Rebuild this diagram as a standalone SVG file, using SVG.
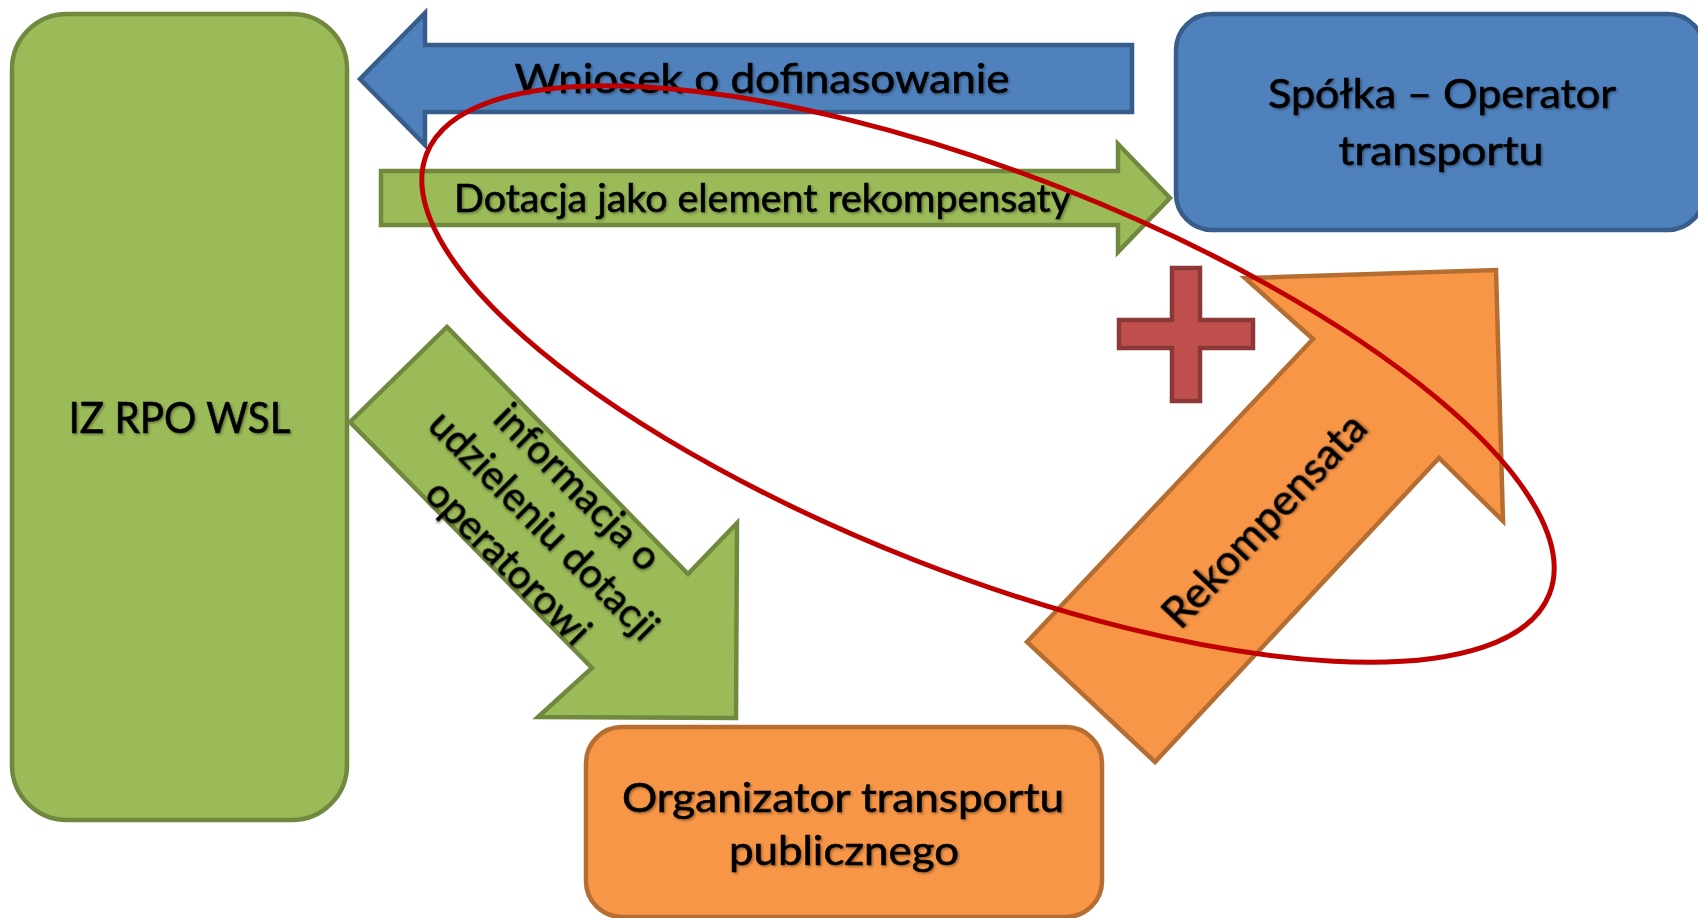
<svg xmlns="http://www.w3.org/2000/svg" width="1698" height="918" viewBox="0 0 1698 918">
<defs>
<filter id="ts" x="-10%" y="-30%" width="120%" height="160%">
<feDropShadow dx="1.5" dy="1.5" stdDeviation="1" flood-color="#000" flood-opacity="0.35"/>
</filter>
</defs>
<style>
.green{fill:#9BBB59;stroke:#71893F;stroke-width:4.5;stroke-linejoin:miter}
.blue{fill:#4F81BD;stroke:#385D8A;stroke-width:4.5;stroke-linejoin:miter}
.orange{fill:#F79646;stroke:#B66D31;stroke-width:4.5;stroke-linejoin:miter}
.lbl{font-family:Lato,"Open Sans","Liberation Sans",sans-serif;fill:#000;stroke:#000;stroke-width:0.6;filter:url(#ts)}
</style>
<rect width="1698" height="918" fill="#fff"/>

<g id="iz-rpo-wsl">
<rect class="green" x="12" y="14" width="335" height="806" rx="55" ry="55"/>
<text class="lbl" x="179.5" y="433" font-size="42" text-anchor="middle" textLength="222" lengthAdjust="spacingAndGlyphs">IZ RPO WSL</text>
</g>

<g id="spolka-operator">
<rect class="blue" x="1176" y="14" width="528" height="216" rx="36" ry="36"/>
<text class="lbl" x="1442" y="108" font-size="40" text-anchor="middle" textLength="348" lengthAdjust="spacingAndGlyphs">Spółka – Operator</text>
<text class="lbl" x="1441" y="165" font-size="40" text-anchor="middle" textLength="205" lengthAdjust="spacingAndGlyphs">transportu</text>
</g>

<g id="organizator">
<rect class="orange" x="586" y="727" width="516" height="190" rx="36" ry="36"/>
<text class="lbl" x="843" y="812" font-size="40" text-anchor="middle" textLength="442" lengthAdjust="spacingAndGlyphs">Organizator transportu</text>
<text class="lbl" x="844" y="865" font-size="40" text-anchor="middle" textLength="230" lengthAdjust="spacingAndGlyphs">publicznego</text>
</g>

<g id="connectors">
<g id="wniosek">
<polygon class="blue" points="360,79 425,13 425,45 1132,45 1132,112 425,112 425,145"/>
<text class="lbl" x="762" y="93" font-size="40" text-anchor="middle" textLength="495" lengthAdjust="spacingAndGlyphs">Wniosek o dofinasowanie</text>
</g>
<g id="dotacja">
<polygon class="green" points="381,171 1118,171 1118,144 1170,198 1118,252 1118,225 381,225"/>
<text class="lbl" x="762.5" y="212" font-size="38" text-anchor="middle" textLength="617" lengthAdjust="spacingAndGlyphs">Dotacja jako element rekompensaty</text>
</g>
<g id="informacja">
<polygon class="green" points="350,422 447,327 688,574 737,523 736,718 538,717 592,668"/>
<g transform="translate(541,528) rotate(45)">
<text class="lbl" x="-3" y="-41" font-size="40" text-anchor="middle">informacja o</text>
<text class="lbl" x="0" y="10" font-size="40" text-anchor="middle">udzieleniu dotacji</text>
<text class="lbl" x="1" y="61" font-size="40" text-anchor="middle">operatorowi</text>
</g>
</g>
<g id="rekompensata">
<polygon class="orange" points="1027,642 1313,339 1245,278 1496,270 1503,521 1439,458 1155,762"/>
<g transform="translate(1267,523) rotate(-46.7)">
<text class="lbl" x="0" y="11" font-size="43" text-anchor="middle">Rekompensata</text>
</g>
</g>
</g>

<g id="plus">
<polygon points="1172,268 1200,268 1200,320 1253,320 1253,348 1200,348 1200,401 1172,401 1172,348 1119,348 1119,320 1172,320" fill="#C0504D" stroke="#8C3836" stroke-width="4.5"/>
</g>

<g id="highlight">
<ellipse cx="988" cy="374" rx="603" ry="200" transform="rotate(21.4 988 374)" fill="none" stroke="#C00000" stroke-width="5"/>
</g>
</svg>
